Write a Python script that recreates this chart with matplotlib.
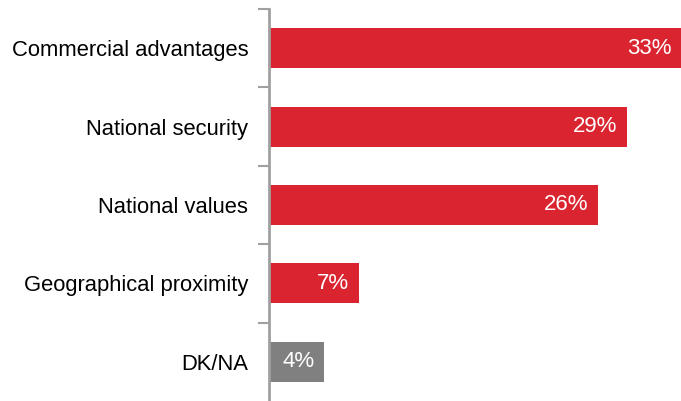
import numpy as np
import matplotlib
matplotlib.use("Agg")
import matplotlib.pyplot as plt

# (labels are the rounded values)
categories = ["Commercial advantages", "National security", "National values",
              "Geographical proximity", "DK/NA"]
values = [33.2, 28.8, 26.5, 7.2, 4.4]
labels = ["33%", "29%", "26%", "7%", "4%"]
colors = ["#DA2530", "#DA2530", "#DA2530", "#DA2530", "#808080"]

plt.rcParams['font.family'] = ['Liberation Sans', 'DejaVu Sans']

fig = plt.figure(figsize=(6.81, 4.01), dpi=100)
ax = fig.add_axes([269 / 681, 0, 412 / 681, 392 / 401])

y = np.arange(len(categories))
ax.barh(y, values, height=0.51, color=colors, left=0.05)

for yi, v, lab in zip(y, values, labels):
    ax.text(v - 0.75, yi, lab, ha='right', va='center', color='white', fontsize=16)

ax.set_xlim(0, 33.2)
ax.set_ylim(len(categories) - 0.5, -0.5)
ax.set_yticks(y)
ax.set_yticklabels(categories, fontsize=15.8)
ax.set_yticks(np.arange(-0.5, len(categories) - 1), minor=True)
ax.tick_params(axis='y', which='major', length=0, pad=15)
ax.tick_params(axis='y', which='minor', length=8, width=1.5, color='#A0A0A0')
ax.set_xticks([])

for s in ['top', 'right', 'bottom']:
    ax.spines[s].set_visible(False)
ax.spines['left'].set_color('#A0A0A0')
ax.spines['left'].set_linewidth(2)

fig.savefig("out.png", dpi=100)
